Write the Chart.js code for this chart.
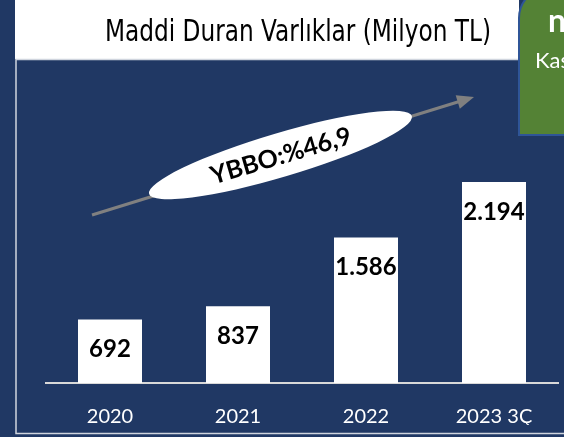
<!DOCTYPE html>
<html>
<head>
<meta charset="utf-8">
<script src="https://cdn.jsdelivr.net/npm/chart.js@4.4.1/dist/chart.umd.min.js"></script>
<style>
  html, body { margin: 0; padding: 0; background: #203864; overflow: hidden; }
  #maddi_duran { display: block; width: 564px; height: 437px; }
</style>
</head>
<body>
<canvas id="maddi_duran" width="564" height="437"></canvas>
<script>
// values (Milyon TL)
var years = ['2020', '2021', '2022', '2023 3Ç'];
var assets = [692, 837, 1586, 2194];
var valueLabels = ['692', '837', '1.586', '2.194'];

var titleText = 'Maddi Duran Varlıklar (Milyon TL)';
var growthText = 'YBBO:%46,9';

var NAVY = '#203864';

// frame, white title strip, green side box
var framePlugin = {
    id: 'frame',
    beforeDraw: function (chart) {
        var ctx = chart.ctx;
        ctx.save();
        ctx.fillStyle = NAVY;
        ctx.fillRect(0, 0, 564, 437);

        ctx.fillStyle = '#ffffff';
        ctx.fillRect(15, 0, 504, 59);

        // panel border
        ctx.strokeStyle = '#D0D5DE';
        ctx.lineWidth = 1.5;
        ctx.beginPath();
        ctx.moveTo(519, 59.5);
        ctx.lineTo(16, 59.5);
        ctx.lineTo(16, 433.5);
        ctx.lineTo(564, 433.5);
        ctx.stroke();

        // title, squeezed to width like the original narrow font
        ctx.font = '31px "Liberation Sans Narrow", "DejaVu Sans Condensed", "Liberation Sans", sans-serif';
        ctx.fillStyle = '#000000';
        ctx.textBaseline = 'alphabetic';
        var w = ctx.measureText(titleText).width;
        ctx.translate(105, 41);
        ctx.scale(386 / w, 1);
        ctx.fillText(titleText, 0, 0);
        ctx.restore();

        // green box (cut by the page edge)
        ctx.save();
        ctx.beginPath();
        ctx.roundRect(519, -12, 70, 147, [30, 0, 0, 0]);
        ctx.fillStyle = '#548235';
        ctx.fill();
        ctx.strokeStyle = '#2F5597';
        ctx.lineWidth = 2;
        ctx.stroke();
        ctx.fillStyle = '#ffffff';
        ctx.font = 'bold 32px Lato, sans-serif';
        ctx.fillText('n', 548, 32);
        ctx.font = '22px Lato, sans-serif';
        ctx.fillText('Kas', 535, 68);
        ctx.restore();
    }
};

// growth arrow with the ellipse label
var growthPlugin = {
    id: 'growth',
    afterDraw: function (chart) {
        var ctx = chart.ctx;
        ctx.save();
        var x0 = 92, y0 = 215, x1 = 474, y1 = 97;
        var ang = Math.atan2(y1 - y0, x1 - x0);
        ctx.strokeStyle = '#808080';
        ctx.fillStyle = '#808080';
        ctx.lineWidth = 3;
        ctx.beginPath();
        ctx.moveTo(x0, y0);
        ctx.lineTo(x1 - 12 * Math.cos(ang), y1 - 12 * Math.sin(ang));
        ctx.stroke();
        ctx.beginPath();
        ctx.moveTo(x1, y1);
        ctx.lineTo(x1 - 17 * Math.cos(ang) + 7 * Math.sin(ang), y1 - 17 * Math.sin(ang) - 7 * Math.cos(ang));
        ctx.lineTo(x1 - 17 * Math.cos(ang) - 7 * Math.sin(ang), y1 - 17 * Math.sin(ang) + 7 * Math.cos(ang));
        ctx.closePath();
        ctx.fill();

        var ea = -16.5 * Math.PI / 180;
        ctx.beginPath();
        ctx.ellipse(280.5, 155, 137, 22, ea, 0, Math.PI * 2);
        ctx.fillStyle = '#ffffff';
        ctx.fill();

        ctx.translate(281, 156);
        ctx.rotate(ea);
        ctx.fillStyle = '#000000';
        ctx.font = 'bold 25px Lato, sans-serif';
        ctx.textAlign = 'center';
        ctx.textBaseline = 'middle';
        ctx.fillText(growthText, 0, 0);
        ctx.restore();
    }
};

// value labels inside the top of each bar
var valuePlugin = {
    id: 'values',
    afterDatasetsDraw: function (chart) {
        var ctx = chart.ctx;
        var meta = chart.getDatasetMeta(0);
        ctx.save();
        ctx.fillStyle = '#000000';
        ctx.font = 'bold 24px Lato, sans-serif';
        ctx.textAlign = 'center';
        ctx.textBaseline = 'middle';
        meta.data.forEach(function (bar, i) {
            ctx.fillText(valueLabels[i], bar.x, bar.y + 30);
        });
        ctx.restore();
    }
};

var ctx = document.getElementById('maddi_duran').getContext('2d');
var myChart = new Chart(ctx, {
    type: 'bar',
    data: {
        labels: years,
        datasets: [{
            data: assets,
            backgroundColor: '#ffffff',
            borderWidth: 0,
            barPercentage: 0.5,
            categoryPercentage: 1.0
        }]
    },
    options: {
        responsive: false,
        maintainAspectRatio: false,
        devicePixelRatio: 1,
        animation: false,
        layout: {
            padding: { left: 46, right: 6, top: 108, bottom: 12 }
        },
        scales: {
            y: {
                display: false,
                min: 0,
                max: 3000
            },
            x: {
                grid: { display: false, drawTicks: false },
                border: { display: true, color: '#D9D9D9', width: 2 },
                ticks: {
                    color: '#ffffff',
                    padding: 22,
                    font: { family: 'Lato', size: 20 }
                },
                afterFit: function (axis) {
                    axis.height = 42;
                }
            }
        },
        plugins: {
            legend: { display: false },
            tooltip: { enabled: false }
        }
    },
    plugins: [framePlugin, growthPlugin, valuePlugin]
});
</script>
</body>
</html>
